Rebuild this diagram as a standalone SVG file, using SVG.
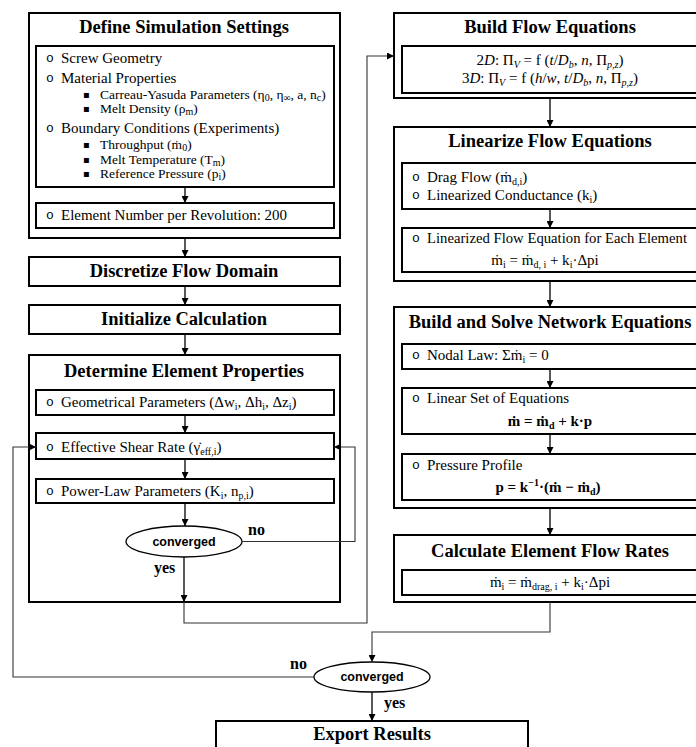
<svg xmlns="http://www.w3.org/2000/svg" width="696" height="747" viewBox="0 0 696 747">
<style>
.ob,.ib{fill:#fff;stroke:#000;stroke-width:2}
.t{font-family:"Liberation Serif",serif;font-weight:bold;font-size:18.5px;text-anchor:middle;fill:#000}
.b{font-family:"Liberation Serif",serif;font-size:15px;fill:#000}
.s{font-family:"Liberation Serif",serif;font-size:13.5px;fill:#000}
.sb{font-size:10px}
.bu{font-family:"Liberation Mono",monospace;font-size:13px;fill:#000}
.sq{font-family:"DejaVu Sans",sans-serif;font-size:10px;fill:#000}
.i{font-style:italic}
.bd{font-weight:bold}
.cv{font-family:"Liberation Sans",sans-serif;font-weight:bold;font-size:12.5px;text-anchor:middle;fill:#000}
.yn{font-family:"Liberation Serif",serif;font-weight:bold;font-size:16px;fill:#000}
.el{fill:#fff;stroke:#000;stroke-width:1.3}
.c{fill:none;stroke:#000;stroke-width:1.3}
.lp{fill:none;stroke:#333;stroke-width:1.1}
</style>
<defs>
<marker id="ah" viewBox="0 0 10 10" refX="10" refY="5" markerWidth="7" markerHeight="7" markerUnits="userSpaceOnUse" orient="auto">
<path d="M0,0 L10,5 L0,10 z" fill="#000"/>
</marker>
</defs>

<g id="define">
<rect class="ob" x="29" y="13" width="311" height="225"/>
<text class="t" x="184" y="33">Define Simulation Settings</text>
<rect class="ib" x="36" y="46" width="298" height="141"/>
<text class="bu" x="46" y="62">o</text><text class="b" x="61" y="63">Screw Geometry</text>
<text class="bu" x="46" y="82">o</text><text class="b" x="61" y="83">Material Properties</text>
<text class="sq" x="83" y="98">▪</text><text class="s" x="100" y="99">Carreau-Yasuda Parameters (η<tspan class="sb" dy="2">0</tspan><tspan dy="-2">, η</tspan><tspan class="sb" dy="2">∞</tspan><tspan dy="-2">, a, n</tspan><tspan class="sb" dy="2">c</tspan><tspan dy="-2">)</tspan></text>
<text class="sq" x="83" y="112">▪</text><text class="s" x="100" y="113">Melt Density (ρ<tspan class="sb" dy="2">m</tspan><tspan dy="-2">)</tspan></text>
<text class="bu" x="46" y="132">o</text><text class="b" x="61" y="133">Boundary Conditions (Experiments)</text>
<text class="sq" x="83" y="148">▪</text><text class="s" x="100" y="149">Throughput (ṁ<tspan class="sb" dy="2">0</tspan><tspan dy="-2">)</tspan></text>
<text class="sq" x="83" y="163">▪</text><text class="s" x="100" y="164">Melt Temperature (T<tspan class="sb" dy="2">m</tspan><tspan dy="-2">)</tspan></text>
<text class="sq" x="83" y="177">▪</text><text class="s" x="100" y="178">Reference Pressure (p<tspan class="sb" dy="2">i</tspan><tspan dy="-2">)</tspan></text>
<rect class="ib" x="36" y="203" width="298" height="25"/>
<text class="bu" x="46" y="219">o</text><text class="b" x="61" y="220" textLength="226" lengthAdjust="spacingAndGlyphs">Element Number per Revolution: 200</text>
</g>

<g id="discretize">
<rect class="ob" x="29" y="257" width="311" height="29"/>
<text class="t" x="184" y="277">Discretize Flow Domain</text>
</g>

<g id="initialize">
<rect class="ob" x="29" y="305" width="311" height="29"/>
<text class="t" x="184" y="325">Initialize Calculation</text>
</g>

<g id="determine">
<rect class="ob" x="29" y="355" width="311" height="247"/>
<text class="t" x="184" y="377">Determine Element Properties</text>
<rect class="ib" x="36" y="390" width="298" height="25"/>
<text class="bu" x="46" y="406">o</text><text class="b" x="61" y="407">Geometrical Parameters (Δw<tspan class="sb" dy="3">i</tspan><tspan dy="-3">, Δh</tspan><tspan class="sb" dy="3">i</tspan><tspan dy="-3">, Δz</tspan><tspan class="sb" dy="3">i</tspan><tspan dy="-3">)</tspan></text>
<rect class="ib" x="36" y="433" width="298" height="26"/>
<text class="bu" x="46" y="451">o</text><text class="b" x="61" y="452">Effective Shear Rate (γ̇<tspan class="sb" dy="3">eff,i</tspan><tspan dy="-3">)</tspan></text>
<rect class="ib" x="36" y="479" width="298" height="24"/>
<text class="bu" x="46" y="495">o</text><text class="b" x="61" y="496">Power-Law Parameters (K<tspan class="sb" dy="3">i</tspan><tspan dy="-3">, n</tspan><tspan class="sb" dy="3">p,i</tspan><tspan dy="-3">)</tspan></text>
</g>

<g id="converged1">
<ellipse class="el" cx="184" cy="541.5" rx="58" ry="15.5"/>
<text class="cv" x="184" y="546">converged</text>
</g>

<g id="buildflow">
<rect class="ob" x="394" y="13" width="312" height="85"/>
<text class="t" x="550" y="33">Build Flow Equations</text>
<rect class="ib" x="402" y="46" width="300" height="47"/>
<text class="b" x="550" y="65" text-anchor="middle">2<tspan class="i">D</tspan>: Π<tspan class="sb i" dy="3">V</tspan><tspan dy="-3"> = f (</tspan><tspan class="i">t</tspan>/<tspan class="i">D</tspan><tspan class="sb i" dy="3">b</tspan><tspan dy="-3">, </tspan><tspan class="i">n</tspan>, Π<tspan class="sb i" dy="3">p,z</tspan><tspan dy="-3">)</tspan></text>
<text class="b" x="550" y="83" text-anchor="middle">3<tspan class="i">D</tspan>: Π<tspan class="sb i" dy="3">V</tspan><tspan dy="-3"> = f (</tspan><tspan class="i">h</tspan>/<tspan class="i">w</tspan>, <tspan class="i">t</tspan>/<tspan class="i">D</tspan><tspan class="sb i" dy="3">b</tspan><tspan dy="-3">, </tspan><tspan class="i">n</tspan>, Π<tspan class="sb i" dy="3">p,z</tspan><tspan dy="-3">)</tspan></text>
</g>

<g id="linearize">
<rect class="ob" x="394" y="127" width="312" height="154"/>
<text class="t" x="550" y="147">Linearize Flow Equations</text>
<rect class="ib" x="402" y="163" width="300" height="46"/>
<text class="bu" x="412" y="181">o</text><text class="b" x="427" y="182">Drag Flow (ṁ<tspan class="sb" dy="3">d,i</tspan><tspan dy="-3">)</tspan></text>
<text class="bu" x="412" y="199">o</text><text class="b" x="427" y="200">Linearized Conductance (k<tspan class="sb" dy="3">i</tspan><tspan dy="-3">)</tspan></text>
<rect class="ib" x="402" y="228" width="300" height="44"/>
<text class="bu" x="412" y="242">o</text><text class="b" x="427" y="243" textLength="260" lengthAdjust="spacingAndGlyphs">Linearized Flow Equation for Each Element</text>
<text class="b" x="545" y="265" text-anchor="middle">ṁ<tspan class="sb" dy="3">i</tspan><tspan dy="-3"> = ṁ</tspan><tspan class="sb" dy="3">d, i</tspan><tspan dy="-3"> + k</tspan><tspan class="sb" dy="3">i</tspan><tspan dy="-3">·Δpi</tspan></text>
</g>

<g id="network">
<rect class="ob" x="394" y="307" width="312" height="201"/>
<text class="t" x="550" y="328">Build and Solve Network Equations</text>
<rect class="ib" x="402" y="344" width="300" height="25"/>
<text class="bu" x="412" y="359">o</text><text class="b" x="427" y="360">Nodal Law: Σṁ<tspan class="sb" dy="3">i</tspan><tspan dy="-3"> = 0</tspan></text>
<rect class="ib" x="402" y="388" width="300" height="46"/>
<text class="bu" x="412" y="402">o</text><text class="b" x="427" y="403">Linear Set of Equations</text>
<text class="b bd" x="550" y="426" text-anchor="middle">ṁ = ṁ<tspan class="sb" dy="3">d</tspan><tspan dy="-3"> + k·p</tspan></text>
<rect class="ib" x="402" y="454" width="300" height="46"/>
<text class="bu" x="412" y="469">o</text><text class="b" x="427" y="470">Pressure Profile</text>
<text class="b bd" x="548" y="492" text-anchor="middle">p = k<tspan class="sb" dy="-6">−1</tspan><tspan dy="6">·(ṁ  −  ṁ</tspan><tspan class="sb" dy="3">d</tspan><tspan dy="-3">)</tspan></text>
</g>

<g id="calculate">
<rect class="ob" x="394" y="535" width="312" height="67"/>
<text class="t" x="550" y="557">Calculate Element Flow Rates</text>
<rect class="ib" x="402" y="570" width="300" height="25"/>
<text class="b" x="550" y="587" text-anchor="middle">ṁ<tspan class="sb" dy="3">i</tspan><tspan dy="-3"> = ṁ</tspan><tspan class="sb" dy="3">drag, i</tspan><tspan dy="-3"> + k</tspan><tspan class="sb" dy="3">i</tspan><tspan dy="-3">·Δpi</tspan></text>
</g>

<g id="converged2">
<ellipse class="el" cx="372" cy="677" rx="58" ry="15"/>
<text class="cv" x="372" y="681">converged</text>
</g>

<g id="export">
<rect class="ob" x="216" y="721" width="312" height="40"/>
<text class="t" x="372" y="740">Export Results</text>
</g>

<g id="connectors">
<line class="c" x1="185" y1="187" x2="185" y2="203" marker-end="url(#ah)"/>
<line class="c" x1="185" y1="238" x2="185" y2="257" marker-end="url(#ah)"/>
<line class="c" x1="185" y1="286" x2="185" y2="305" marker-end="url(#ah)"/>
<line class="c" x1="185" y1="334" x2="185" y2="355" marker-end="url(#ah)"/>
<line class="c" x1="185" y1="415" x2="185" y2="433" marker-end="url(#ah)"/>
<line class="c" x1="185" y1="459" x2="185" y2="479" marker-end="url(#ah)"/>
<line class="c" x1="185" y1="503" x2="185" y2="526" marker-end="url(#ah)"/>
<line class="c" x1="184" y1="557" x2="184" y2="602" marker-end="url(#ah)"/>
<polyline class="lp" points="242,541.5 355,541.5 355,447 334,447" marker-end="url(#ah)"/>
<polyline class="lp" points="184,602 184,623 367,623 367,56 394,56" marker-end="url(#ah)"/>
<line class="c" x1="550" y1="98" x2="550" y2="127" marker-end="url(#ah)"/>
<line class="c" x1="550" y1="209" x2="550" y2="228" marker-end="url(#ah)"/>
<line class="c" x1="550" y1="281" x2="550" y2="307" marker-end="url(#ah)"/>
<line class="c" x1="550" y1="369" x2="550" y2="388" marker-end="url(#ah)"/>
<line class="c" x1="550" y1="434" x2="550" y2="454" marker-end="url(#ah)"/>
<line class="c" x1="550" y1="508" x2="550" y2="535" marker-end="url(#ah)"/>
<polyline class="lp" points="550,602 550,632 372,632 372,662" marker-end="url(#ah)"/>
<polyline class="lp" points="314,677 13,677 13,447 36,447" marker-end="url(#ah)"/>
<line class="c" x1="372" y1="692" x2="372" y2="721" marker-end="url(#ah)"/>
<text class="yn" x="248" y="535">no</text>
<text class="yn" x="154" y="573">yes</text>
<text class="yn" x="290" y="669">no</text>
<text class="yn" x="384" y="708">yes</text>
</g>
</svg>
